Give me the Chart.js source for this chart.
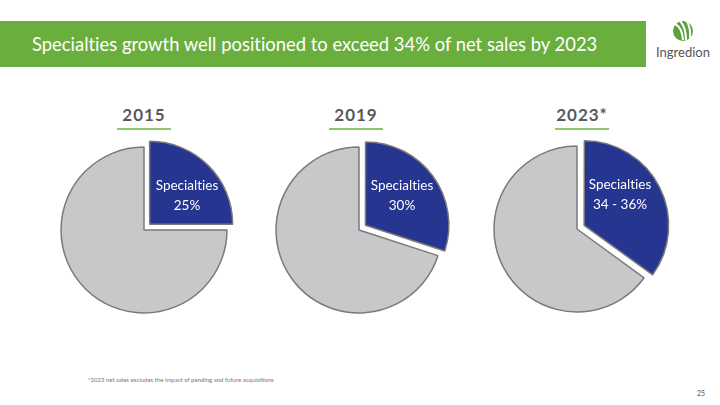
<!DOCTYPE html>
<html>
<head>
<meta charset="utf-8">
<script src="https://cdn.jsdelivr.net/npm/chart.js@4.4.1/dist/chart.umd.min.js"></script>
<style>
  body { margin: 0; width: 720px; height: 405px; background: #fff; position: relative; overflow: hidden; font-family: Lato, "Open Sans", sans-serif; font-variant-ligatures: none; }
  .bar { position: absolute; left: 0; top: 21px; width: 646px; height: 46px; background: #6aae3e; }
  .bar h1 { margin: 0; position: absolute; left: 32px; top: 10px; font-size: 20px; font-weight: normal; color: #fff; white-space: nowrap; transform: scaleX(0.92); transform-origin: left center; }
  .logo { position: absolute; left: 652px; top: 18px; width: 62px; text-align: center; }
  .logo span { display: block; font-size: 13px; color: #555; margin-top: -1px; }
  .year { position: absolute; top: 104px; width: 80px; text-align: center; font-size: 17px; font-weight: bold; color: #595959; letter-spacing: 1px; }
  .line { position: absolute; top: 128px; width: 54px; height: 2px; background: #8dc86a; }
  canvas { position: absolute; }
  .note { position: absolute; left: 88px; top: 376px; font-size: 6px; color: #777; }
  .page { position: absolute; left: 697px; top: 389px; font-size: 7px; color: #555; }
</style>
</head>
<body>
<div class="bar"><h1>Specialties growth well positioned to exceed 34% of net sales by 2023</h1></div>
<div class="logo">
  <svg width="26" height="24" viewBox="0 0 26 24">
    <circle cx="13" cy="13" r="10" fill="#5aa33a"/>
    <path d="M5 6 Q12 9 13 22" stroke="#fff" stroke-width="2" fill="none"/>
    <path d="M10 3 Q16 9 16 22" stroke="#fff" stroke-width="2" fill="none"/>
    <path d="M16 2 Q21 9 20 20" stroke="#fff" stroke-width="2" fill="none"/>
  </svg>
  <span>Ingredion</span>
</div>

<div class="year" id="y0"></div><div class="line" id="l0"></div>
<div class="year" id="y1"></div><div class="line" id="l1"></div>
<div class="year" id="y2"></div><div class="line" id="l2"></div>

<canvas id="pie0" width="200" height="200"></canvas>
<canvas id="pie1" width="200" height="200"></canvas>
<canvas id="pie2" width="200" height="200"></canvas>

<div class="note">*2023 net sales excludes the impact of pending and future acquisitions</div>
<div class="page">25</div>

<script>
const years = ["2015", "2019", "2023*"];
const categories = ["Specialties", "Other"];
const specialtyShare = [25, 30, 35];
const shareLabels = ["25%", "30%", "34 - 36%"];

// where each pie sits on the slide
const centersX = [144, 359, 577];
const centersY = [230, 230, 229];
const titleX = [144, 356, 582];

// white label on the blue slice
const sliceLabel = {
  id: "sliceLabel",
  afterDatasetsDraw(chart, args, opts) {
    const arc = chart.getDatasetMeta(0).data[0];
    const ctx = chart.ctx;
    ctx.save();
    ctx.textRendering = "optimizeSpeed"; // no "ti" ligature
    ctx.fillStyle = "#fff";
    ctx.font = "13.5px Lato, 'Open Sans', sans-serif";
    ctx.textAlign = "center";
    ctx.textBaseline = "middle";
    ctx.fillText(categories[0], arc.x + 43, arc.y - 44);
    ctx.fillText(opts.text, arc.x + 43, arc.y - 24);
    ctx.restore();
  }
};

years.forEach((yr, i) => {
  const t = document.getElementById("y" + i);
  t.textContent = yr;
  t.style.left = (titleX[i] - 40) + "px";
  document.getElementById("l" + i).style.left = (titleX[i] - 27) + "px";

  const cv = document.getElementById("pie" + i);
  cv.style.left = (centersX[i] - 100) + "px";
  cv.style.top = (centersY[i] - 100) + "px";

  new Chart(cv, {
    type: "pie",
    data: {
      labels: categories,
      datasets: [{
        data: [specialtyShare[i], 100 - specialtyShare[i]],
        backgroundColor: ["#26358f", "#c8c8ca"],
        borderColor: "#7a7a7a",
        borderWidth: 1.5,
        offset: [32, 0]   // chart.js moves the slice by offset/4
      }]
    },
    options: {
      responsive: false,
      animation: false,
      radius: 83,
      layout: { padding: 0 },
      plugins: {
        legend: { display: false },
        tooltip: { enabled: false },
        sliceLabel: { text: shareLabels[i] }
      }
    },
    plugins: [sliceLabel]
  });
});
</script>
</body>
</html>
